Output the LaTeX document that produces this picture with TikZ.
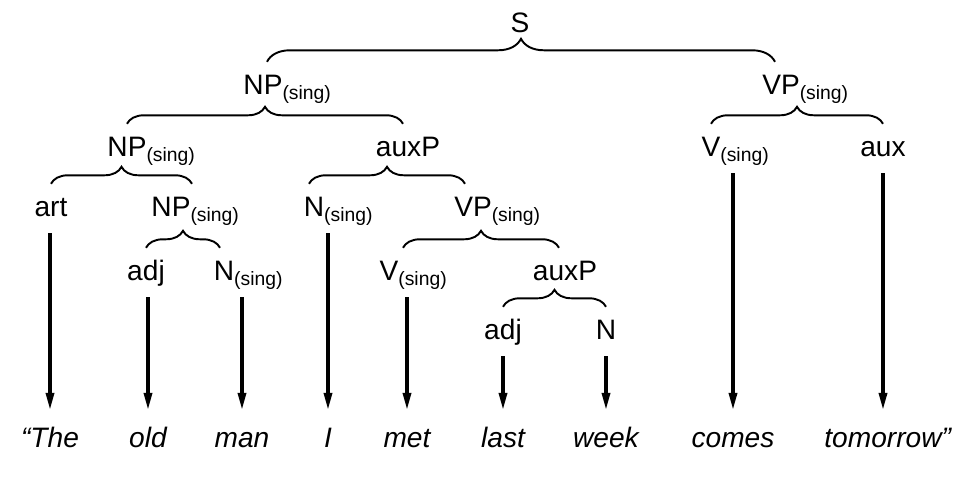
\documentclass[tikz,border=0pt]{standalone}
\usepackage{fontspec}
\setmainfont{Liberation Sans}
\usetikzlibrary{decorations.pathreplacing, arrows.meta}
\newcommand{\singsub}{\rlap{\raisebox{-2.8pt}{\fontsize{11}{13}\selectfont(sing)}}}
\tikzset{
        cat/.style={font=\fontsize{16}{19}\selectfont, inner xsep=0pt, inner ysep=0.26cm,
                    text height=11.3pt, text depth=0pt, anchor=base}, % category labels
        word/.style={font=\fontsize{16}{19}\selectfont\itshape, inner sep=0pt,
                     text height=11.5pt, text depth=0pt, anchor=base}, % words of the sentence
        brace/.style={decorate, decoration={brace, amplitude=#1}, line width=1.1pt},
        brace/.default=0.34cm,
        arr/.style={-{Triangle[length=10pt, width=4.5pt]}, line width=2pt,
                    shorten <=0.06cm, shorten >=0.34cm}, % category to word
}

\begin{document}
\begin{tikzpicture}[x=0.02cm, y=-0.02cm]
      \useasboundingbox (0,0) rectangle (978,482);
      % categories, top down
      \node[cat] (s) at (520,33) {S};
      \node[cat] (np1) at (263,95) {NP\singsub};
      \node[cat] (vp1) at (781,95) {VP\singsub};
      \node[cat] (np2) at (127,157) {NP\singsub};
      \node[cat] (auxp2) at (408,157) {auxP};
      \node[cat] (v2) at (711,157) {V\singsub};
      \node[cat] (aux) at (883,157) {aux};
      \node[cat] (art) at (51,217) {art};
      \node[cat] (np3) at (171,217) {NP\singsub};
      \node[cat] (n3) at (314,217) {N\singsub};
      \node[cat] (vp3) at (473,217) {VP\singsub};
      \node[cat] (adj4) at (146,281) {adj};
      \node[cat] (n4) at (224,281) {N\singsub};
      \node[cat] (v4) at (389,281) {V\singsub};
      \node[cat] (auxp4) at (565,281) {auxP};
      \node[cat] (adj5) at (503,340) {adj};
      \node[cat] (n5) at (606,340) {N};
      % the sentence
      \foreach \n/\x/\t in {the/50/“The, old/148/old, man/242/man, i/328/I, met/407/met,
                            last/503/last, week/606/week, comes/733/comes, tom/883/tomorrow\rlap{”}}
         \node[word] (\n) at (\x,448) {\t};
      % braces
      \draw[brace=0.46cm] ([xshift=0.08cm]np1.north) -- ([xshift=-0.12cm]vp1.north);
      \draw[brace] (np2.north) -- ([xshift=-0.1cm]auxp2.north);
      \draw[brace] (v2.north) -- (aux.north);
      \draw[brace] (art.north) -- ([xshift=0.42cm]np3.north);
      \draw[brace] ([xshift=-0.1cm]n3.north) -- ([xshift=-0.16cm]vp3.north);
      \draw[brace] (adj4.north) -- ([xshift=-0.08cm]n4.north);
      \draw[brace] ([xshift=0.28cm]v4.north) -- ([xshift=-0.12cm]auxp4.north);
      \draw[brace] (adj5.north) -- (n5.north);
      % arrows down to the words
      \foreach \c/\w in {art/the, adj4/old, n4/man, n3/i, v4/met, adj5/last, n5/week, v2/comes, aux/tom}
         \draw[arr] (\c.south -| \w.north) -- (\w.north);
\end{tikzpicture}
\end{document}
